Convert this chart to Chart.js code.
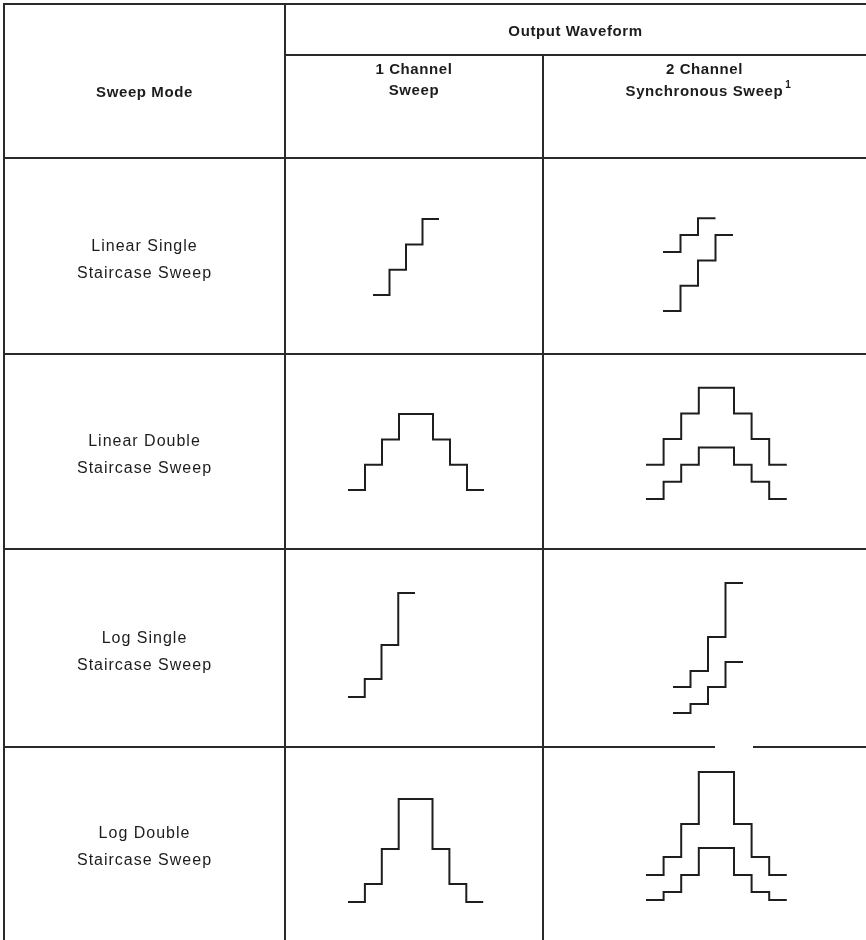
<!DOCTYPE html>
<html>
<head>
<meta charset="utf-8">
<title>Sweep Mode / Output Waveform</title>
<script src="https://cdn.jsdelivr.net/npm/chart.js@4.4.1/dist/chart.umd.min.js"></script>
<style>
body { margin: 0; background: #fff; }
#page { position: relative; width: 866px; height: 940px; overflow: hidden; background: #fff; }
#wave { position: absolute; left: 0; top: 0; }
.rule { position: absolute; background: #2a2a2a; }
.lbl { position: absolute; transform: translate(-50%, -50%); white-space: nowrap;
       font-family: 'Liberation Sans', Arial, sans-serif; color: #1c1c1c; line-height: 1; }
.head { font-weight: bold; font-size: 15px; letter-spacing: 0.6px; }
.mode { font-size: 16px; letter-spacing: 1px; }
sup { font-size: 10px; vertical-align: 8px; margin-left: 2px; }
</style>
</head>
<body>
<div id="page">
  <canvas id="wave" width="866" height="940"></canvas>
</div>
<script>
// texts of the table
var sweepModes = [
    ['Linear Single', 'Staircase Sweep'],
    ['Linear Double', 'Staircase Sweep'],
    ['Log Single', 'Staircase Sweep'],
    ['Log Double', 'Staircase Sweep']
];
var topHeader = 'Output Waveform';
var colHeaders = [['1 Channel', 'Sweep'], ['2 Channel', 'Synchronous Sweep']];

// step levels (volts, one value per step)
var linSingle1  = [0, 1, 2, 3];
var linSingle2a = [2.33, 3.0, 3.67];
var linSingle2b = [0, 1, 2, 3];
var linDouble1  = [0, 1, 2, 3, 3, 2, 1, 0];
var linDouble2a = [1.33, 2.33, 3.33, 4.33, 4.33, 3.33, 2.33, 1.33];
var linDouble2b = [0, 0.67, 1.33, 2.0, 2.0, 1.33, 0.67, 0];
var logSingle1  = [0, 0.71, 2.04, 4.08];
var logSingle2a = [1.02, 1.65, 2.98, 5.1];
var logSingle2b = [0, 0.35, 1.02, 2.0];
var logDouble1  = [0, 0.71, 2.08, 4.04, 4.04, 2.08, 0.71, 0];
var logDouble2a = [0.98, 1.69, 2.98, 5.02, 5.02, 2.98, 1.69, 0.98];
var logDouble2b = [0, 0.31, 0.98, 2.04, 2.04, 0.98, 0.31, 0];

// which waveform goes in which cell (cells numbered row by row)
var waves = [
    { cell: 0, levels: linSingle1 },
    { cell: 1, levels: linSingle2a }, { cell: 1, levels: linSingle2b },
    { cell: 2, levels: linDouble1 },
    { cell: 3, levels: linDouble2a }, { cell: 3, levels: linDouble2b },
    { cell: 4, levels: logSingle1 },
    { cell: 5, levels: logSingle2a }, { cell: 5, levels: logSingle2b },
    { cell: 6, levels: logDouble1 },
    { cell: 7, levels: logDouble2a }, { cell: 7, levels: logDouble2b }
];

// ---- layout (pixels) ----
var W = 866, H = 940;
// where step 0 / 0 V sits in each cell, and size of one step / one volt
var cellFrames = [
    { x0: 373, step: 16.5, y0: 295, volt: 25.3 },
    { x0: 663, step: 17.5, y0: 311, volt: 25.3 },
    { x0: 348, step: 17.0, y0: 490, volt: 25.3 },
    { x0: 646, step: 17.6, y0: 499, volt: 25.7 },
    { x0: 348, step: 16.75, y0: 697, volt: 25.5 },
    { x0: 673, step: 17.5, y0: 713, volt: 25.5 },
    { x0: 348, step: 16.9, y0: 902, volt: 25.5 },
    { x0: 646, step: 17.6, y0: 900, volt: 25.5 }
];
var colX = [4, 285, 543, 866];
var rowY = [4, 55, 158, 354, 549, 747, 940];

var page = document.getElementById('page');

function rule(x, y, w, h) {
    var d = document.createElement('div');
    d.className = 'rule';
    d.style.left = x + 'px'; d.style.top = y + 'px';
    d.style.width = w + 'px'; d.style.height = h + 'px';
    page.appendChild(d);
}
function label(text, cls, cx, cy) {
    var d = document.createElement('div');
    d.className = 'lbl ' + cls;
    d.innerHTML = text;
    d.style.left = cx + 'px'; d.style.top = cy + 'px';
    page.appendChild(d);
}

// table rules
rule(colX[0] - 1, rowY[0] - 1, W - colX[0] + 1, 2);        // top
rule(colX[0] - 1, rowY[0] - 1, 2, H);                      // left
rule(colX[1] - 1, rowY[0] - 1, 2, H);                      // after "Sweep Mode"
rule(colX[2] - 1, rowY[1] - 1, 2, H);                      // between channels
rule(colX[1] - 1, rowY[1] - 1, W - colX[1] + 1, 2);        // under "Output Waveform"
rule(colX[0] - 1, rowY[2] - 1, W - colX[0] + 1, 2);        // header bottom
rule(colX[0] - 1, rowY[3] - 1, W - colX[0] + 1, 2);
rule(colX[0] - 1, rowY[4] - 1, W - colX[0] + 1, 2);
rule(colX[0] - 1, rowY[5] - 1, 716 - colX[0], 2);           // scan leaves a gap here
rule(753, rowY[5] - 1, W - 753, 2);

// header texts
label(topHeader, 'head', (colX[1] + colX[3]) / 2, 30);
label('Sweep Mode', 'head', (colX[0] + colX[1]) / 2, 91);
label(colHeaders[0][0], 'head', (colX[1] + colX[2]) / 2, 68);
label(colHeaders[0][1], 'head', (colX[1] + colX[2]) / 2, 89);
label(colHeaders[1][0], 'head', (colX[2] + colX[3]) / 2, 68);
label(colHeaders[1][1] + '<sup>1</sup>', 'head', (colX[2] + colX[3]) / 2 + 4, 89);

// row labels
sweepModes.forEach(function (m, i) {
    var mid = (rowY[i + 3] + rowY[i + 2]) / 2 + 3;
    label(m[0], 'mode', (colX[0] + colX[1]) / 2, mid - 13.5);
    label(m[1], 'mode', (colX[0] + colX[1]) / 2, mid + 13.5);
});

// ---- waveforms with Chart.js: one pair of hidden scales per cell ----
var scales = {};
cellFrames.forEach(function (f, i) {
    scales['x' + i] = {
        type: 'linear', display: false, bounds: 'data',
        min: -f.x0 / f.step, max: (W - f.x0) / f.step
    };
    scales['y' + i] = {
        type: 'linear', display: false, bounds: 'data',
        min: (f.y0 - H) / f.volt, max: f.y0 / f.volt
    };
});

var datasets = waves.map(function (w) {
    var pts = w.levels.map(function (v, k) { return { x: k, y: v }; });
    pts.push({ x: w.levels.length, y: w.levels[w.levels.length - 1] });
    return {
        data: pts,
        xAxisID: 'x' + w.cell,
        yAxisID: 'y' + w.cell,
        stepped: 'before',
        borderColor: '#1e1e1e',
        borderWidth: 2,
        pointRadius: 0,
        fill: false
    };
});

var ctx = document.getElementById('wave').getContext('2d');
window.waveChart = new Chart(ctx, {
    type: 'line',
    data: { datasets: datasets },
    options: {
        responsive: false,
        animation: false,
        devicePixelRatio: 1,
        events: [],
        layout: { padding: 0 },
        plugins: { legend: { display: false }, tooltip: { enabled: false }, title: { display: false } },
        scales: scales
    }
});
</script>
</body>
</html>
